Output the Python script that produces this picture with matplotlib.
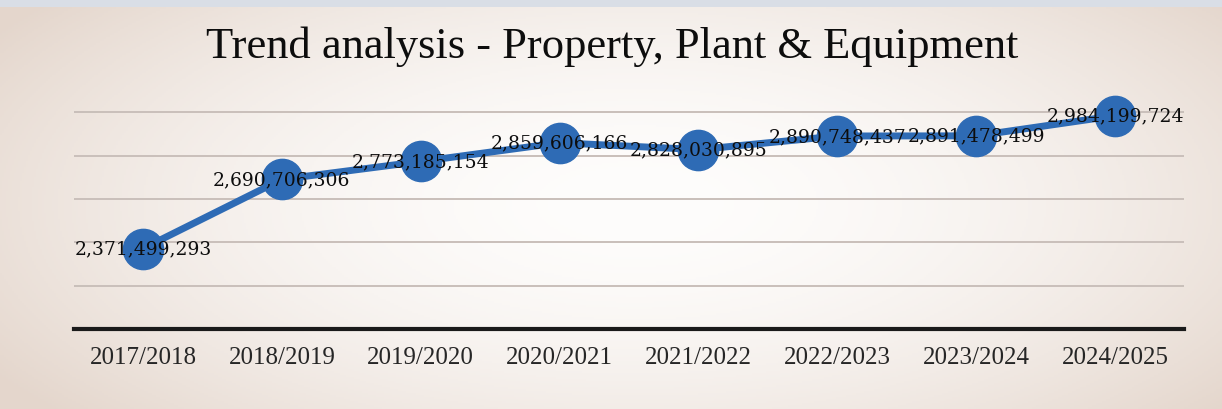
import numpy as np
import matplotlib
matplotlib.use("Agg")
import matplotlib.pyplot as plt
from matplotlib.patches import Rectangle

# ---- data ----
categories = ["2017/2018", "2018/2019", "2019/2020", "2020/2021",
              "2021/2022", "2022/2023", "2023/2024", "2024/2025"]
values = [2371499293, 2690706306, 2773185154, 2859606166,
          2828030895, 2890748437, 2891478499, 2984199724]
title = "Trend analysis - Property, Plant & Equipment"

W, H, DPI = 1222, 410, 100
fig = plt.figure(figsize=(W / DPI, H / DPI), dpi=DPI)

# background gradient (paper look)
bg = fig.add_axes([0, 0, 1, 1], zorder=-10)
yy, xx = np.mgrid[0:1:205j, 0:1:611j]
d = np.sqrt(((xx - 0.52) / 0.62) ** 2 + ((yy - 0.5) / 0.8) ** 2)
d = np.clip(d, 0, 1) ** 1.8
c_in = np.array([254, 253, 252]) / 255
c_out = np.array([228, 214, 204]) / 255
img = c_in[None, None, :] * (1 - d[..., None]) + c_out[None, None, :] * d[..., None]
bg.imshow(img, aspect="auto", extent=[0, 1, 0, 1], origin="lower")
bg.add_patch(Rectangle((0, 1 - 8 / H), 1, 8 / H, color="#D9DEE6", lw=0))
bg.set_xlim(0, 1)
bg.set_ylim(0, 1)
bg.axis("off")

ax = fig.add_axes([73.6 / W, 1 - 330 / H, 1110.8 / W, (330 - 70) / H])
ax.set_facecolor("none")
x = np.arange(len(categories))
vals_m = np.array(values) / 1e6

ax.plot(x, vals_m, color="#2E6BB5", lw=5, marker="o", markersize=29,
        markerfacecolor="#2E6BB5", markeredgecolor="#2E6BB5", zorder=3, clip_on=False,
        solid_capstyle="round")

for xi, v, raw in zip(x, vals_m, values):
    ax.text(xi, v, f"{raw:,}", ha="center", va="center", fontsize=13.5,
            family="DejaVu Serif", color="#0d0d0d", zorder=4)

ax.set_xlim(-0.5, len(categories) - 0.5)
ax.set_ylim(2000, 3200)
ax.set_yticks([2200, 2400, 2600, 2800, 3000])
ax.yaxis.grid(True, color="#C9BFBA", lw=1.4)
ax.tick_params(axis="y", left=False, labelleft=False)
ax.set_xticks(x)
ax.set_xticklabels(categories, family="Liberation Serif", fontsize=18, color="#262626")
ax.tick_params(axis="x", length=0, pad=12)
for s in ["top", "right", "left"]:
    ax.spines[s].set_visible(False)
ax.spines["bottom"].set_linewidth(3)
ax.spines["bottom"].set_color("#1a1a1a")
ax.set_axisbelow(True)

fig.text(612 / W, 1 - 47 / H, title, ha="center", va="center",
         family="Liberation Serif", fontsize=32, color="#0d0d0d")

fig.savefig("out.png", dpi=DPI)
